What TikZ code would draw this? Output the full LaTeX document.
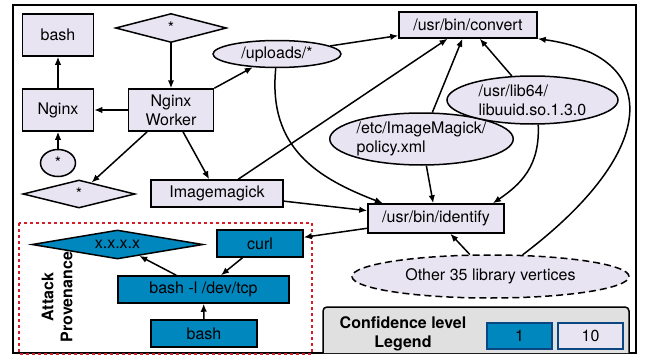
\documentclass[tikz,border=0pt]{standalone}
\usepackage{fontspec}
\setmainfont{TeX Gyre Heros}
\usetikzlibrary{shapes.geometric,arrows.meta}
\definecolor{lav}{RGB}{233,228,242}
\definecolor{pblue}{RGB}{0,135,190}
\definecolor{dblue}{RGB}{10,70,130}
\definecolor{lgray}{RGB}{224,224,224}
\definecolor{dred}{RGB}{215,30,40}
\begin{document}
\begin{tikzpicture}[x=1pt,y=-1pt,
  font=\fontsize{16}{19}\selectfont,
  line width=1.5pt,
  rbox/.style={draw,fill=lav,rectangle,inner sep=0pt},
  ell/.style={draw,fill=lav,ellipse,inner sep=0pt},
  dia/.style={draw,fill=lav,diamond,aspect=4,inner sep=0pt},
  bbox/.style={draw,fill=pblue,rectangle,inner sep=0pt},
  arr/.style={-{Latex[length=8pt,width=6.5pt]}}]
\useasboundingbox (0,0) rectangle (649,356);
\fill[white] (0,0) rectangle (649,356);
% outer frame
\draw (13,5) rectangle (636,353);
% red dashed box
\draw[dred,line width=1.5pt,dash pattern=on 3pt off 3pt] (19,223) rectangle (312,354);
% legend
\draw[fill=lgray,rounded corners=4pt] (323,353) -- (323,307) -- (629,307) -- (629,353);
\node[font=\fontsize{16}{19}\selectfont\bfseries,align=center] (legtxt) at (403,334) {Confidence level\\Legend};
\node[bbox,draw=dblue,minimum width=65pt,minimum height=26pt] (leg1) at (519.5,336) {1};
\node[rbox,draw=dblue,minimum width=65pt,minimum height=26pt] (leg10) at (590.5,336) {10};

% nodes
\node[rbox,minimum width=71pt,minimum height=42pt] (bashA) at (58,35) {bash};
\node[dia,minimum width=111pt,minimum height=29pt] (topdia) at (171,28) {*};
\node[ell,minimum width=128pt,minimum height=27pt] (uploads) at (277,54) {/uploads/*};
\node[rbox,minimum width=138pt,minimum height=26pt] (convert) at (468,25) {/usr/bin/convert};
\node[rbox,minimum width=71pt,minimum height=42pt] (nginx) at (58,110) {Nginx};
\node[rbox,minimum width=85pt,minimum height=42pt,align=center] (worker) at (171,110) {Nginx\\Worker};
\node[ell,minimum width=35pt,minimum height=27pt] (circ) at (58,163) {*};
\node[dia,minimum width=112pt,minimum height=28pt] (botdia) at (79,194) {*};
\node[rbox,minimum width=132pt,minimum height=27pt] (imagick) at (217,193.5) {Imagemagick};
\node[ell,minimum width=168pt,minimum height=52pt,align=left] (policy) at (421.5,139) {/etc/ImageMagick/\\policy.xml};
\node[ell,minimum width=171pt,minimum height=48pt,align=left] (libuuid) at (532.5,100) {/usr/lib64/\\libuuid.so.1.3.0};
\node[rbox,minimum width=136pt,minimum height=29pt] (identify) at (436,218.5) {/usr/bin/identify};
\node[ell,dashed,dash pattern=on 7pt off 4pt,minimum width=277pt,minimum height=43pt] (other) at (490.5,276.5) {Other 35 library vertices};

% attack provenance
\node[dia,aspect=6,fill=pblue,minimum width=171pt,minimum height=29pt] (xxxx) at (117.5,244.5) {x.x.x.x};
\node[bbox,minimum width=86pt,minimum height=27pt] (curl) at (260,243.5) {curl};
\node[bbox,minimum width=171pt,minimum height=27pt] (bashl) at (203.5,289.5) {bash -l /dev/tcp};
\node[bbox,minimum width=106pt,minimum height=27pt] (bashB) at (204,333.5) {bash};
\node[rotate=90,align=center,font=\fontsize{16}{19}\selectfont\bfseries] (attack) at (57,297) {Attack\\Provenance};

% edges
\draw[arr] (nginx) -- (bashA);
\draw[arr] (circ) -- (nginx);
\draw[arr] (worker) -- (nginx);
\draw[arr] (topdia) -- (worker);
\draw[arr] (worker.north east) -- (uploads);
\draw[arr] (worker) -- (botdia);
\draw[arr] (worker) -- (imagick);
\draw[arr] (uploads) -- (convert);
\draw[arr] (uploads.265) .. controls +(-8,80) and +(-65,-25) .. (identify.164);
\draw[arr] (imagick) -- (convert);
\draw[arr] (imagick) -- (identify);
\draw[arr] (policy) -- (convert);
\draw[arr] (policy) -- (identify);
\draw[arr] (libuuid) -- (convert);
\draw[arr] (libuuid.283) .. controls +(2,41) and +(28,-19) .. (identify.15);
\draw[arr] (other) -- (identify);
\draw[arr] (other.34) .. controls +(140,-106) and +(123,17) .. (convert.south east);
\draw[arr] (identify) -- (curl);
\draw[arr] (curl) -- (bashl);
\draw[arr] (bashl) -- (xxxx);
\draw[arr] (bashB) -- (bashl);
\end{tikzpicture}
\end{document}
